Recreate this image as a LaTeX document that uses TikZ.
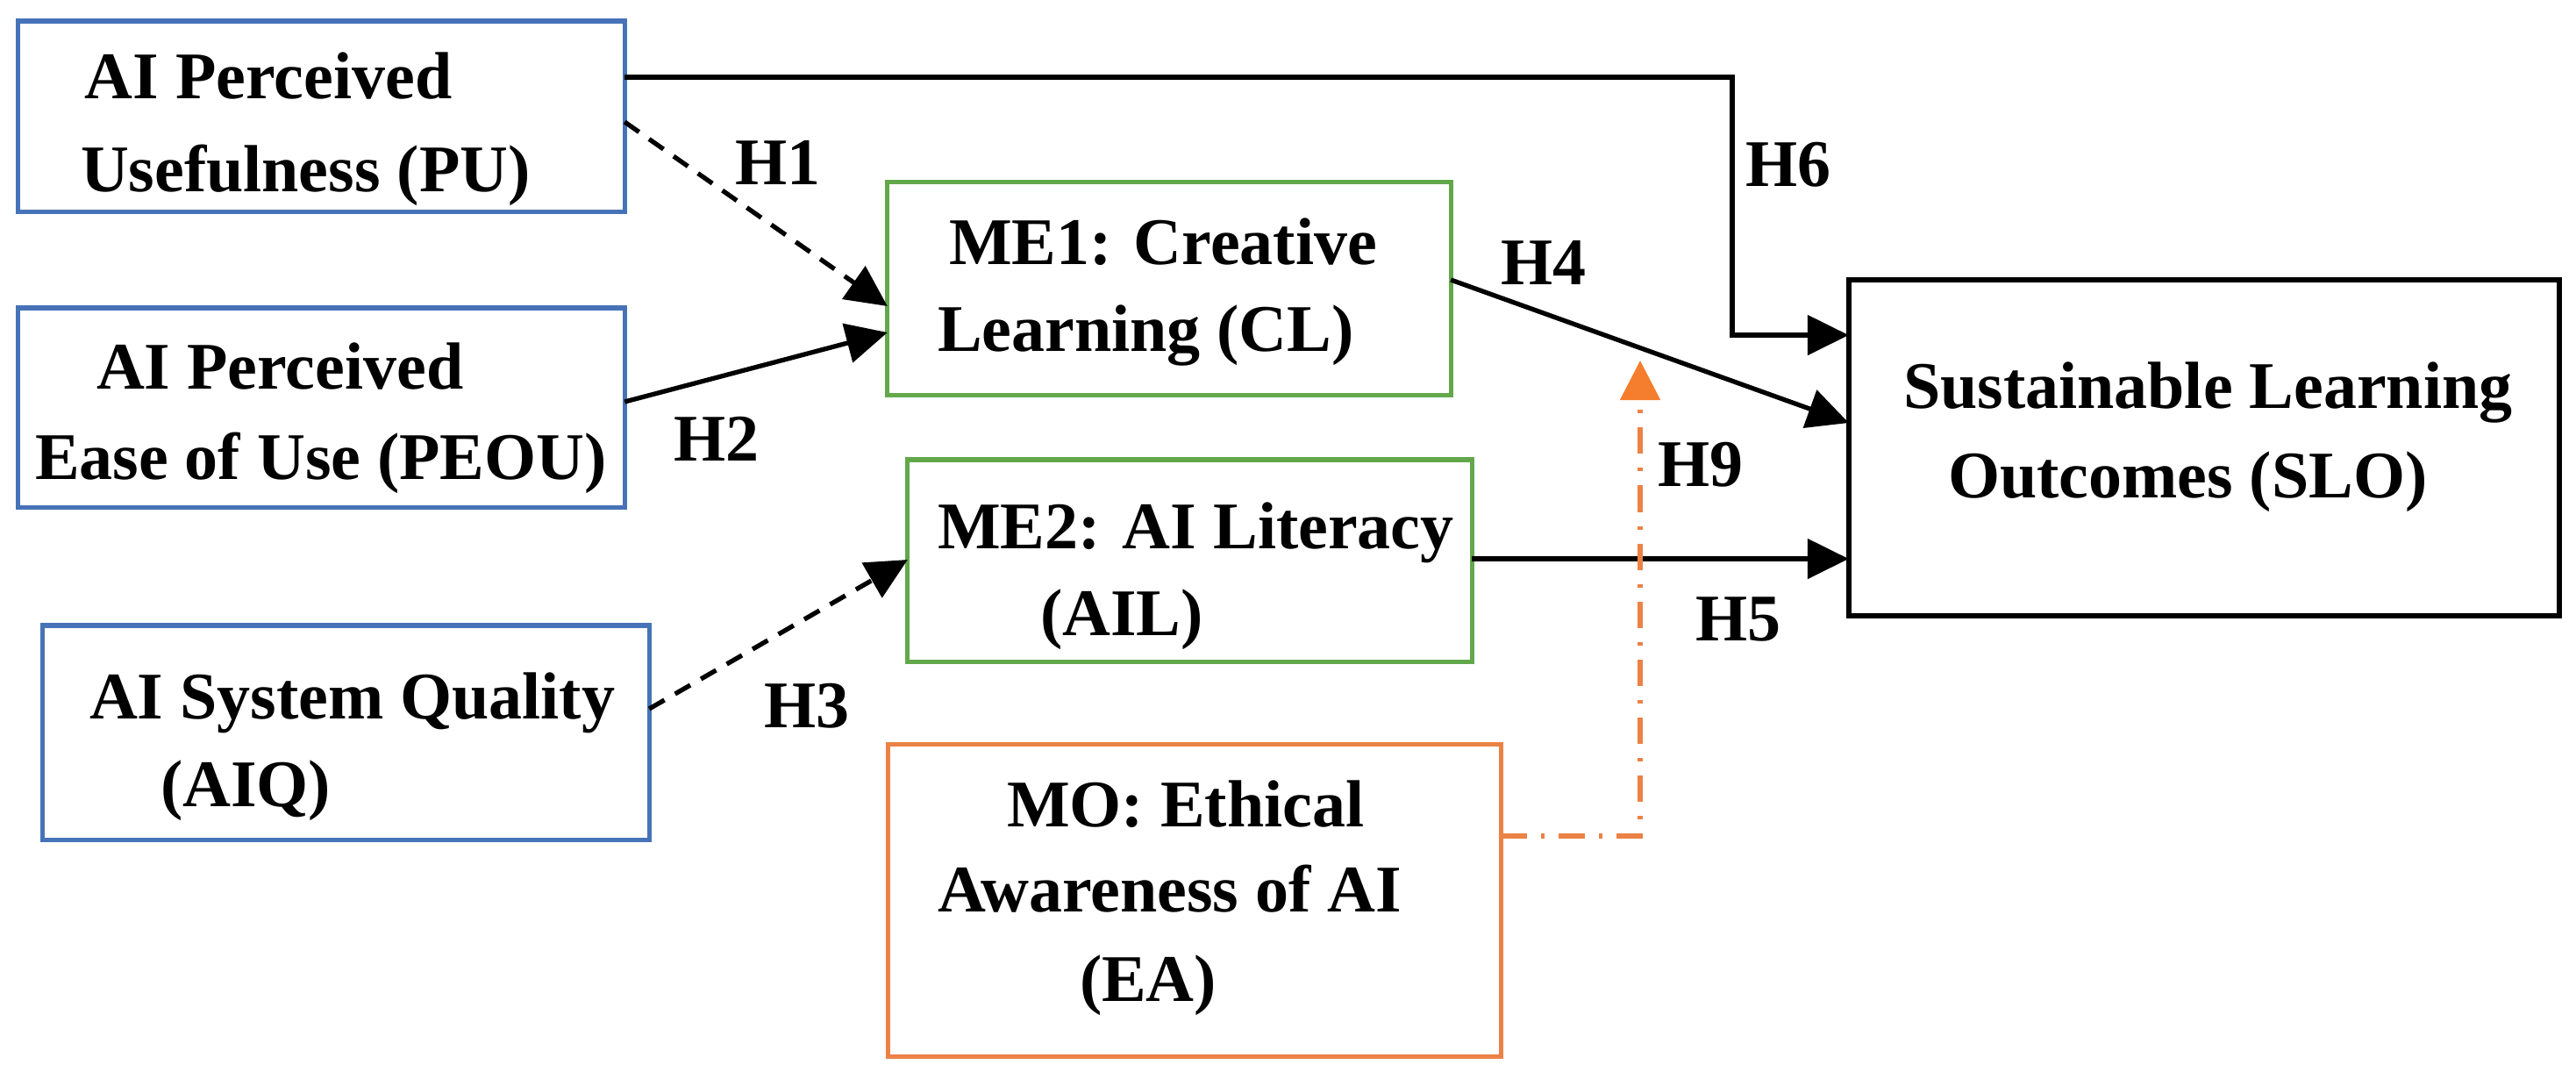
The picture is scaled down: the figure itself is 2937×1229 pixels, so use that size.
\documentclass[tikz,border=0pt]{standalone}
\usepackage{fontspec}
\setmainfont{Liberation Serif}
\usetikzlibrary{arrows.meta,calc}
\definecolor{bluebox}{HTML}{4673B7}
\definecolor{greenbox}{HTML}{62A84B}
\definecolor{orangebox}{HTML}{EB8246}
\definecolor{orangearrow}{HTML}{F57D2E}
\begin{document}
\begin{tikzpicture}[x=0.01cm,y=-0.01cm,
  box/.style={draw,rectangle,line width=1.45pt,inner sep=0pt,outer sep=0pt},
  txt/.style={anchor=base west,inner sep=0pt,outer sep=0pt,font=\fontsize{21.6}{26}\selectfont\bfseries},
  conn/.style={line width=1.5pt,-{Triangle[length=4.7mm,width=4.5mm]}},
  dashline/.style={dash pattern=on 0.2cm off 0.14cm},
  modline/.style={draw=orangebox,line width=1.5pt,dash pattern=on 0.3cm off 0.16cm on 0.04cm off 0.16cm,
     -{Triangle[length=4.5mm,width=4.5mm,fill=orangearrow,color=orangearrow]}}
]
\useasboundingbox[fill=white] (0,0) rectangle (2937,1229);

% boxes
\node[box,draw=bluebox,minimum width=6.91cm,minimum height=2.17cm] (PU) at (366.5,132.5) {};
\node[box,draw=bluebox,minimum width=6.91cm,minimum height=2.27cm] (PEOU) at (366.5,464.5) {};
\node[box,draw=bluebox,minimum width=6.91cm,minimum height=2.44cm] (AIQ) at (394.5,835) {};
\node[box,draw=greenbox,minimum width=6.42cm,minimum height=2.42cm] (ME1) at (1333,329) {};
\node[box,draw=greenbox,minimum width=6.43cm,minimum height=2.30cm] (ME2) at (1356.5,639) {};
\node[box,draw=orangebox,minimum width=6.98cm,minimum height=3.55cm] (MO) at (1362,1026.5) {};
\node[box,draw=black,line width=1.7pt,minimum width=8.10cm,minimum height=3.83cm] (SLO) at (2513,510.5) {};

% box texts
\node[txt] (PUa) at (97,112) {AI Perceived};
\node[txt] (PUb) at (92,218) {Usefulness (PU)};
\node[txt] (PEOUa) at (110,443) {AI Perceived};
\node[txt] (PEOUb) at (40,546) {Ease of Use (PEOU)};
\node[txt] (AIQa) at (102,819) {AI System Quality};
\node[txt] (AIQb) at (183,919) {(AIQ)};
\node[txt] (ME1a) at (1082,301) {ME1: Creative};
\node[txt] (ME1b) at (1069,400) {Learning (CL)};
\node[txt] (ME2a) at (1069,625) {ME2: AI Literacy};
\node[txt] (ME2b) at (1186,724) {(AIL)};
\node[txt] (MOa) at (1148,942) {MO: Ethical};
\node[txt] (MOb) at (1069,1039) {Awareness of AI};
\node[txt] (MOc) at (1231,1141) {(EA)};
\node[txt] (SLOa) at (2170,465) {Sustainable Learning};
\node[txt] (SLOb) at (2221,567) {Outcomes (SLO)};

% corner coordinates
\coordinate (c6a) at (1975,88);
\coordinate (c6b) at (1975,382);
\coordinate (c9a) at (1870,953);
\coordinate (c9b) at (1870,411);

% connectors
\draw[conn] (PU.east |- 0,88) -- (c6a) -- (c6b) -- (SLO.west |- c6b);
\draw[conn,dashline] (PU.east |- 0,139) -- (ME1.west |- 0,349);
\draw[conn] (PEOU.east |- 0,458) -- (ME1.west |- 0,379);
\draw[conn,dashline] (AIQ.east |- 0,808) -- (ME2.west |- 0,638);
\draw[conn] (ME1.east |- 0,319) -- (SLO.west |- 0,482);
\draw[conn] (ME2.east |- 0,637) -- (SLO.west |- 0,637);
\draw[modline] (MO.east |- c9a) -- (c9a) -- (c9b);

% labels
\node[txt] (H1) at (838,210) {H1};
\node[txt] (H2) at (768,525) {H2};
\node[txt] (H3) at (871,829) {H3};
\node[txt] (H4) at (1711,324) {H4};
\node[txt] (H5) at (1933,730) {H5};
\node[txt] (H6) at (1990,212) {H6};
\node[txt] (H9) at (1890,554) {H9};
\end{tikzpicture}
\end{document}
